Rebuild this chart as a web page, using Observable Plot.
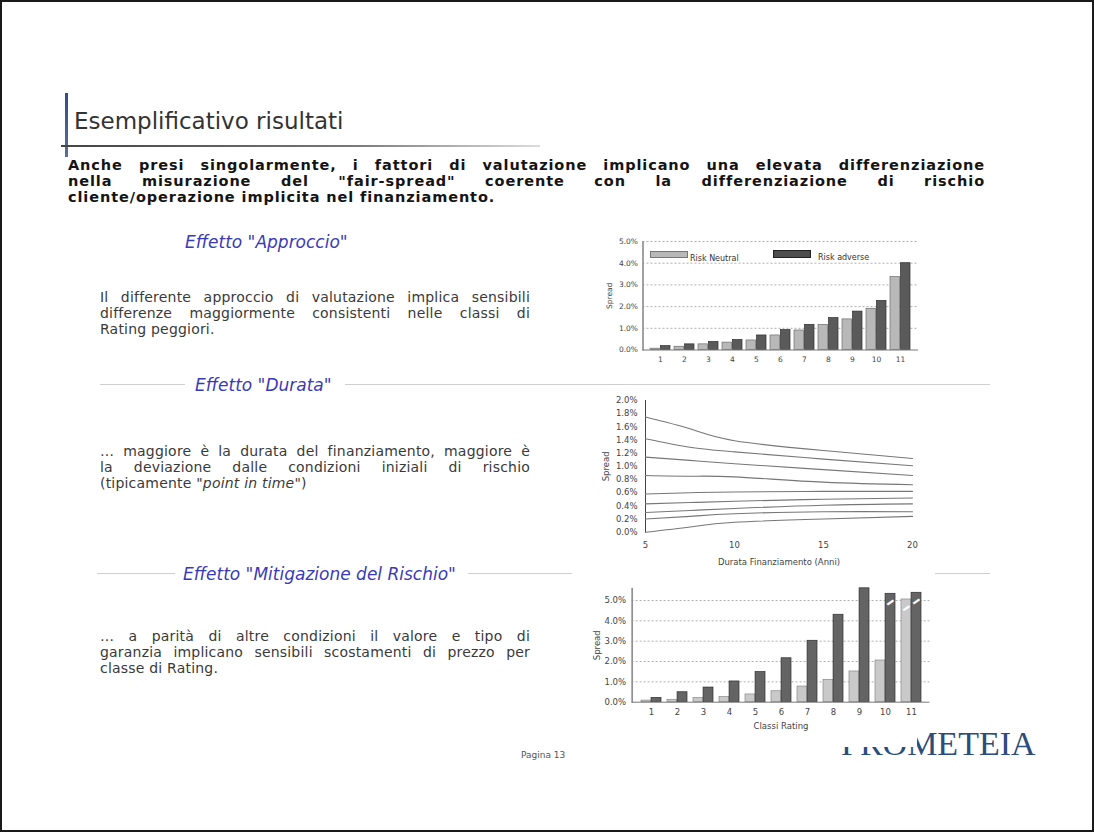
<!DOCTYPE html>
<html>
<head>
<meta charset="utf-8">
<script src="https://cdn.jsdelivr.net/npm/d3@7"></script>
<script src="https://cdn.jsdelivr.net/npm/@observablehq/plot@0.6"></script>
<style>
  html, body { margin:0; padding:0; background:#fff; }
  #page { position:relative; width:1094px; height:832px; overflow:hidden; background:#fff;
          font-family:"DejaVu Sans", Verdana, sans-serif; color:#333; }
  #border { position:absolute; left:0; top:0; width:1094px; height:832px; box-sizing:border-box;
            border:2px solid #1a1a1a; pointer-events:none; z-index:20; }
  .abs { position:absolute; white-space:nowrap; }
  .jl { text-align:justify; text-align-last:justify; }
  .head { font-style:italic; font-size:17px; color:#3a3ab8; line-height:20px; }
  .para { font-size:14px; line-height:15.8px; letter-spacing:0.2px; color:#3a3a3a; width:430px; left:100px; }
  .bold { font-size:14.5px; line-height:16px; letter-spacing:0.9px; font-weight:bold; color:#141414; width:917px; left:68px; }
  .sep { position:absolute; height:1px; background:#cfcfcf; }
  .chart { position:absolute; }
  .chart svg { display:block; }
  .leg { position:absolute; font-size:8px; color:#333; white-space:nowrap; line-height:10px; }
</style>
</head>
<body>
<div id="page">
  <div id="border"></div>
  <!-- title block -->
  <div class="abs" style="left:65px; top:93px; width:3px; height:64px; background:linear-gradient(#2f4f86,#5a6f95);"></div>
  <div class="abs" style="left:74px; top:110px; font-size:23px; line-height:23px; color:#333;">Esemplificativo risultati</div>
  <div class="abs" style="left:61px; top:145px; width:479px; height:2px; background:linear-gradient(to right,#444,#777 60%,#ddd);"></div>

  <div class="abs bold" style="top:157px;">
    <div class="jl">Anche presi singolarmente, i fattori di valutazione implicano una elevata differenziazione</div>
    <div class="jl">nella misurazione del "fair-spread" coerente con la differenziazione di rischio</div>
    <div>cliente/operazione implicita nel finanziamento.</div>
  </div>

  <!-- section 1 -->
  <div class="abs head" style="left:185px; top:232px;">Effetto "Approccio"</div>
  <div class="abs para" style="top:290px;">
    <div class="jl">Il differente approccio di valutazione implica sensibili</div>
    <div class="jl">differenze maggiormente consistenti nelle classi di</div>
    <div>Rating peggiori.</div>
  </div>

  <!-- section 2 -->
  <div class="sep" style="left:100px; top:384px; width:85px;"></div>
  <div class="abs head" style="left:195px; top:375px;">Effetto "Durata"</div>
  <div class="sep" style="left:345px; top:384px; width:645px;"></div>
  <div class="abs para" style="top:444px;">
    <div class="jl">… maggiore è la durata del finanziamento, maggiore è</div>
    <div class="jl">la deviazione dalle condizioni iniziali di rischio</div>
    <div>(tipicamente "<i>point in time</i>")</div>
  </div>

  <!-- section 3 -->
  <div class="sep" style="left:97px; top:573px; width:78px;"></div>
  <div class="abs head" style="left:183px; top:564px;">Effetto "Mitigazione del Rischio"</div>
  <div class="sep" style="left:468px; top:573px; width:522px;"></div>
  <div class="abs para" style="top:629px;">
    <div class="jl">… a parità di altre condizioni il valore e tipo di</div>
    <div class="jl">garanzia implicano sensibili scostamenti di prezzo per</div>
    <div>classe di Rating.</div>
  </div>

  <div class="abs" style="left:521px; top:750px; font-size:9px; line-height:10px; color:#555;">Pagina 13</div>
  <div class="abs" style="left:841px; top:727px; font-family:'Liberation Serif',serif; font-size:34px; line-height:34px; color:#2c4c7c;">PROMETEIA</div>

  <div class="chart" id="c1" style="left:600px; top:226px;"></div>
  <div class="chart" id="c2" style="left:572px; top:390px; background:#fff;"></div>
  <div class="abs" style="left:580px; top:580px; width:337px; height:167px; background:#fff;"></div>
  <div class="chart" id="c3" style="left:580px; top:580px;"></div>

  <!-- legend of chart 1 -->
  <div class="leg" style="left:650px; top:251px; width:36px; height:5px; background:#b8b8b8; border:1px solid #777;"></div>
  <div class="leg" style="left:690px; top:254px;">Risk Neutral</div>
  <div class="leg" style="left:773px; top:250px; width:36px; height:6px; background:#4e4e4e; border:1px solid #222;"></div>
  <div class="leg" style="left:818px; top:253px;">Risk adverse</div>
</div>

<script>
// ---------- DATA ----------
const ratingClasses = ["1","2","3","4","5","6","7","8","9","10","11"];

// Effetto "Approccio" (spread %)
const approccioRiskNeutral = [0.06, 0.15, 0.26, 0.34, 0.44, 0.67, 0.90, 1.16, 1.41, 1.90, 3.36];
const approccioRiskAdverse = [0.18, 0.26, 0.37, 0.46, 0.67, 0.92, 1.16, 1.47, 1.77, 2.26, 4.00];
const approccioTicks = [0, 1, 2, 3, 4, 5];

// Effetto "Durata" (spread % by years)
const durataAnni = [5, 7.5, 10, 15, 20];
const durataCurva1 = [1.75, 1.57, 1.39, 1.24, 1.12];
const durataCurva2 = [1.42, 1.29, 1.22, 1.11, 1.01];
const durataCurva3 = [1.14, 1.09, 1.04, 0.95, 0.86];
const durataCurva4 = [0.86, 0.85, 0.84, 0.76, 0.72];
const durataCurva5 = [0.58, 0.60, 0.61, 0.62, 0.62];
const durataCurva6 = [0.43, 0.45, 0.47, 0.50, 0.52];
const durataCurva7 = [0.30, 0.33, 0.36, 0.41, 0.43];
const durataCurva8 = [0.20, 0.24, 0.28, 0.31, 0.31];
const durataCurva9 = [0.00, 0.08, 0.15, 0.20, 0.24];
const durataTicksX = [5, 10, 15, 20];
const durataTicksY = [0.0, 0.2, 0.4, 0.6, 0.8, 1.0, 1.2, 1.4, 1.6, 1.8, 2.0];

// Effetto "Mitigazione del Rischio" (spread %)
const mitigazioneChiara = [0.08, 0.11, 0.20, 0.25, 0.38, 0.54, 0.77, 1.10, 1.51, 2.05, 5.05];
const mitigazioneScura  = [0.21, 0.49, 0.72, 1.02, 1.48, 2.16, 3.02, 4.30, 5.60, 5.33, 5.38];
const mitigazioneTicks = [0, 1, 2, 3, 4, 5];
const mitigazioneTroncateScure = ["10", "11"];
const mitigazioneTroncateChiare = ["11"];

// ---------- CHARTS ----------
const pct = d => d.toFixed(1) + "%";
const font = "DejaVu Sans, sans-serif";

function half(width, mL, mR, n, p) {
  const step = (width - mL - mR) / (n + p);
  return step * (1 - p) / 2;
}

// Chart 1
{
  const W = 335, H = 147, mL = 42.5, mR = 17, p = 0.15;
  const h = half(W, mL, mR, ratingClasses.length, p);
  const rows = ratingClasses.map((c, i) => ({classe: c, neutral: approccioRiskNeutral[i], adverse: approccioRiskAdverse[i]}));
  const chart = Plot.plot({
    width: W, height: H, marginLeft: mL, marginRight: mR, marginTop: 15, marginBottom: 23.5,
    style: {background: "white", fontFamily: font, fontSize: "7.5px", color: "#444", overflow: "visible"},
    x: {domain: ratingClasses, padding: p, tickSize: 0, tickPadding: 7, label: null},
    y: {domain: [0, 5], ticks: approccioTicks, tickFormat: pct, tickSize: 0, tickPadding: 5,
        label: "Spread", labelAnchor: "center", labelOffset: 36, labelArrow: "none", line: true},
    marks: [
      Plot.ruleY(approccioTicks.filter(t => t > 0), {stroke: "#9a9a9a", strokeDasharray: "2,2", strokeWidth: 0.8}),
      Plot.barY(rows, {x: "classe", y: "neutral", fill: "#b8b8b8", stroke: "#6e6e6e", strokeWidth: 0.7, insetRight: h}),
      Plot.barY(rows, {x: "classe", y: "adverse", fill: "#5a5a5a", stroke: "#2e2e2e", strokeWidth: 0.7, insetLeft: h}),
      Plot.ruleY([0], {stroke: "#777"})
    ]
  });
  document.getElementById("c1").append(chart);
}

// Chart 2
{
  const curves = [durataCurva1, durataCurva2, durataCurva3, durataCurva4, durataCurva5,
                  durataCurva6, durataCurva7, durataCurva8, durataCurva9];
  const rows = curves.flatMap((vals, k) => vals.map((v, i) => ({serie: k, anni: durataAnni[i], spread: v})));
  const chart = Plot.plot({
    width: 363, height: 188, marginLeft: 73, marginRight: 23, marginTop: 10, marginBottom: 46.3,
    style: {background: "white", fontFamily: font, fontSize: "8.5px", color: "#444", overflow: "visible"},
    x: {domain: [5, 20], ticks: durataTicksX, tickSize: 0, tickPadding: 10,
        label: "Durata Finanziamento (Anni)", labelAnchor: "center", labelOffset: 33, labelArrow: "none"},
    y: {domain: [0, 2], ticks: durataTicksY, tickFormat: pct, tickSize: 0, tickPadding: 8,
        label: "Spread", labelAnchor: "center", labelOffset: 43, labelArrow: "none", line: true},
    marks: [
      Plot.line(rows, {x: "anni", y: "spread", z: "serie", stroke: "#777", strokeWidth: 1.1, curve: "natural"})
    ]
  });
  document.getElementById("c2").append(chart);
}

// Chart 3
{
  const W = 355, H = 166, mL = 51.6, mR = 5.6, p = 0.24;
  const h = half(W, mL, mR, ratingClasses.length, p);
  const rows = ratingClasses.map((c, i) => ({classe: c, chiara: mitigazioneChiara[i], scura: mitigazioneScura[i]}));
  const brokenDark = rows.filter(r => mitigazioneTroncateScure.includes(r.classe));
  const brokenLight = rows.filter(r => mitigazioneTroncateChiare.includes(r.classe));
  const chart = Plot.plot({
    width: W, height: H, marginLeft: mL, marginRight: mR, marginTop: 7.8, marginBottom: 44.3,
    style: {background: "transparent", fontFamily: font, fontSize: "8.5px", color: "#444", overflow: "visible"},
    x: {domain: ratingClasses, padding: p, tickSize: 0, tickPadding: 7,
        label: "Classi Rating", labelAnchor: "center", labelOffset: 27},
    y: {domain: [0, 5.6], ticks: mitigazioneTicks, tickFormat: pct, tickSize: 0, tickPadding: 6,
        label: "Spread", labelAnchor: "center", labelOffset: 38, labelArrow: "none", line: true},
    marks: [
      Plot.ruleY(mitigazioneTicks.filter(t => t > 0), {stroke: "#9a9a9a", strokeDasharray: "2,2", strokeWidth: 0.8}),
      Plot.barY(rows, {x: "classe", y: "chiara", fill: "#c9c9c9", stroke: "#888", strokeWidth: 0.7, insetRight: h}),
      Plot.barY(rows, {x: "classe", y: "scura", fill: "#646464", stroke: "#2e2e2e", strokeWidth: 0.7, insetLeft: h}),
      Plot.text(brokenDark, {x: "classe", y: "scura", text: () => "━", rotate: -35, fill: "white", fontSize: 12, dx: h / 2, dy: 9}),
      Plot.text(brokenLight, {x: "classe", y: "chiara", text: () => "━", rotate: -35, fill: "white", fontSize: 12, dx: -h / 2, dy: 9}),
      Plot.ruleY([0], {stroke: "#777"})
    ]
  });
  document.getElementById("c3").append(chart);
}
</script>
</body>
</html>
